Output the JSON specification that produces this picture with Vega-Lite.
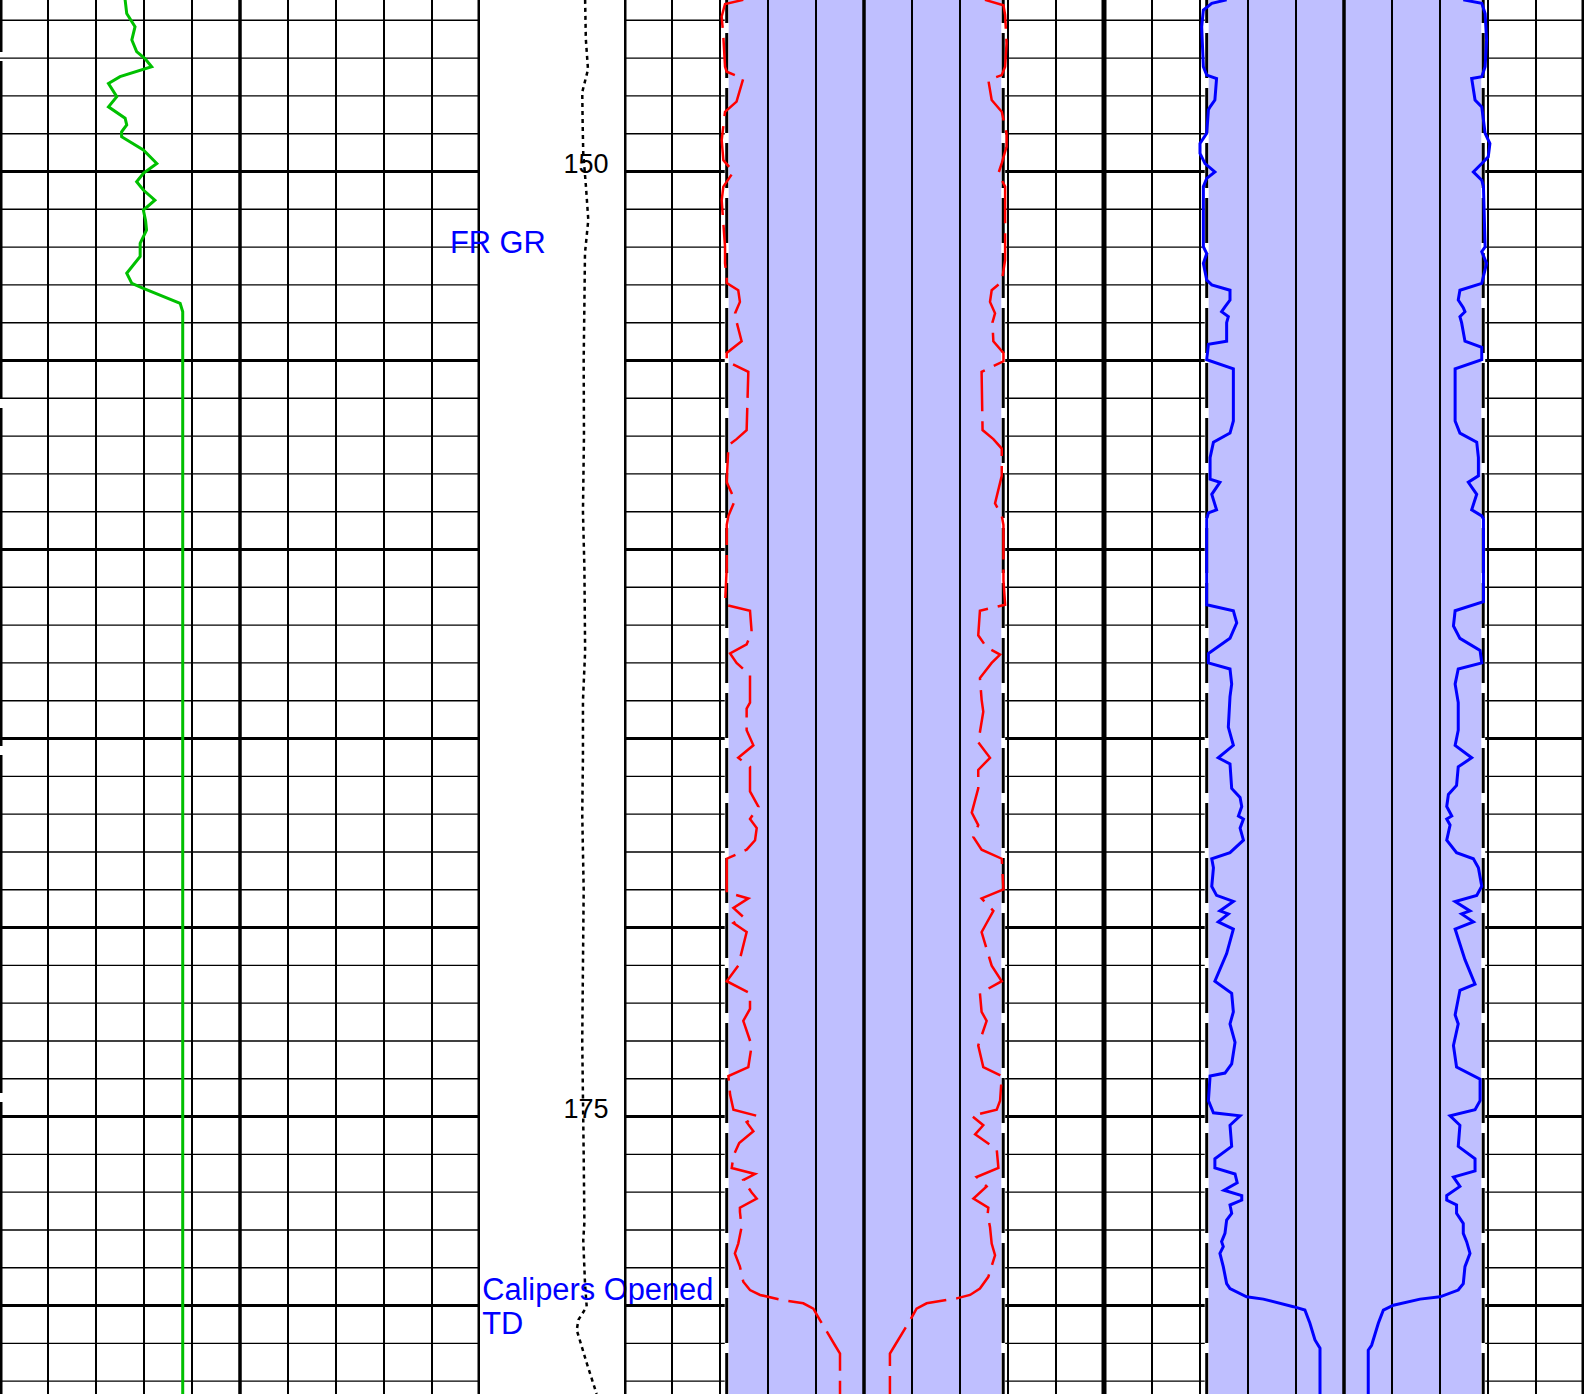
{
  "$schema": "https://vega.github.io/schema/vega-lite/v6.json",
  "padding": 0,
  "autosize": {"type": "pad"},
  "background": "white",
  "config": {"view": {"stroke": null}, "concat": {"spacing": 0}},
  "spacing": 0,
  "bounds": "flush",
  "resolve": {"scale": {"x": "independent", "y": "independent"}},
  "datasets": {
    "hgrid": [{"depth":146},{"depth":147},{"depth":148},{"depth":149},{"depth":150},{"depth":151},{"depth":152},{"depth":153},{"depth":154},{"depth":155},{"depth":156},{"depth":157},{"depth":158},{"depth":159},{"depth":160},{"depth":161},{"depth":162},{"depth":163},{"depth":164},{"depth":165},{"depth":166},{"depth":167},{"depth":168},{"depth":169},{"depth":170},{"depth":171},{"depth":172},{"depth":173},{"depth":174},{"depth":175},{"depth":176},{"depth":177},{"depth":178},{"depth":179},{"depth":180},{"depth":181},{"depth":182}],
    "vgridGR": [{"v":15},{"v":30},{"v":45},{"v":60},{"v":75},{"v":90},{"v":105},{"v":120},{"v":135},{"v":150}],
    "edge": [{"v":0}],
    "vgridCal": [{"v":-10},{"v":-8},{"v":-6},{"v":-4},{"v":-2},{"v":0},{"v":2},{"v":4},{"v":6},{"v":8},{"v":10}],
    "bitfill": [{"lo":-5.72,"hi":5.8}],
    "bit": [{"v":-5.72},{"v":5.8}],
    "gr": [
      {"depth":145.46,"v":39.1},{"depth":145.82,"v":39.6},{"depth":146.17,"v":42.2},{"depth":146.52,"v":41.2},{"depth":146.83,"v":42.7},{"depth":147.01,"v":45.3},{"depth":147.23,"v":47.4},{"depth":147.49,"v":37.5},{"depth":147.67,"v":33.9},{"depth":148.02,"v":36.5},{"depth":148.29,"v":33.9},{"depth":148.59,"v":39.1},{"depth":148.77,"v":39.6},{"depth":148.95,"v":38.0},{"depth":149.08,"v":38.0},{"depth":149.43,"v":44.8},{"depth":149.79,"v":49.0},{"depth":150.05,"v":44.8},{"depth":150.27,"v":42.7},{"depth":150.49,"v":44.8},{"depth":150.76,"v":48.4},{"depth":151.02,"v":44.8},{"depth":151.3,"v":45.5},{"depth":151.55,"v":45.8},{"depth":151.9,"v":43.8},{"depth":152.25,"v":43.8},{"depth":152.69,"v":39.6},{"depth":152.96,"v":41.2},{"depth":153.09,"v":44.8},{"depth":153.49,"v":56.3},{"depth":153.71,"v":57.1},{"depth":182.34,"v":57.1}
    ],
    "dots": [
      {"depth":145.46,"v":73.0},{"depth":146.5,"v":73.5},{"depth":147.3,"v":75.0},{"depth":147.9,"v":71.0},{"depth":148.77,"v":71.3},{"depth":149.51,"v":71.7},{"depth":150.41,"v":73.6},{"depth":151.28,"v":75.2},{"depth":152.16,"v":72.9},{"depth":153.5,"v":72.5},{"depth":155.0,"v":72.0},{"depth":157.0,"v":72.2},{"depth":159.0,"v":71.5},{"depth":160.5,"v":72.5},{"depth":162.7,"v":73.0},{"depth":164.0,"v":71.5},{"depth":165.5,"v":71.5},{"depth":167.0,"v":71.0},{"depth":169.0,"v":72.0},{"depth":171.0,"v":71.5},{"depth":173.0,"v":71.0},{"depth":174.5,"v":71.5},{"depth":176.0,"v":72.0},{"depth":177.8,"v":72.5},{"depth":178.27,"v":71.7},{"depth":179.4,"v":72.9},{"depth":180.03,"v":74.1},{"depth":180.38,"v":68.3},{"depth":180.65,"v":67.2},{"depth":181.52,"v":74.1},{"depth":182.34,"v":81.0}
    ],
    "labels": [{"depth":150,"text":"150"},{"depth":175,"text":"175"}],
    "notes": [{"depth":179.85,"text":"Calipers Opened"},{"depth":180.74,"text":"TD"}],
    "grnote": [{"depth":152.15,"text":"FR GR"}],
    "cal": [
      {"t":"A","s":"L","depth":145.46,"v":-5.03},{"t":"A","s":"L","depth":145.57,"v":-5.79},{"t":"A","s":"L","depth":145.9,"v":-5.93},{"t":"A","s":"L","depth":146.43,"v":-5.86},{"t":"A","s":"L","depth":147.23,"v":-5.79},{"t":"A","s":"L","depth":147.36,"v":-5.72},{"t":"A","s":"L","depth":147.54,"v":-5.03},{"t":"A","s":"L","depth":148.15,"v":-5.31},{"t":"A","s":"L","depth":148.42,"v":-5.79},{"t":"A","s":"L","depth":149.17,"v":-5.93},{"t":"A","s":"L","depth":149.7,"v":-5.86},{"t":"A","s":"L","depth":150.01,"v":-5.44},{"t":"A","s":"L","depth":150.4,"v":-5.86},{"t":"A","s":"L","depth":150.76,"v":-5.93},{"t":"A","s":"L","depth":151.99,"v":-5.79},{"t":"A","s":"L","depth":152.43,"v":-5.79},{"t":"A","s":"L","depth":152.78,"v":-5.72},{"t":"A","s":"L","depth":152.95,"v":-5.72},{"t":"A","s":"L","depth":153.14,"v":-5.24},{"t":"A","s":"L","depth":153.45,"v":-5.17},{"t":"A","s":"L","depth":153.75,"v":-5.37},{"t":"A","s":"L","depth":154.0,"v":-5.3},{"t":"A","s":"L","depth":154.49,"v":-5.1},{"t":"A","s":"L","depth":154.8,"v":-5.72},{"t":"A","s":"L","depth":155.02,"v":-5.72},{"t":"A","s":"L","depth":155.3,"v":-4.82},{"t":"A","s":"L","depth":156.84,"v":-4.89},{"t":"A","s":"L","depth":157.08,"v":-5.31},{"t":"A","s":"L","depth":157.24,"v":-5.65},{"t":"A","s":"L","depth":158.22,"v":-5.72},{"t":"A","s":"L","depth":158.7,"v":-5.38},{"t":"A","s":"L","depth":159.11,"v":-5.65},{"t":"A","s":"L","depth":159.35,"v":-5.72},{"t":"A","s":"L","depth":160.48,"v":-5.72},{"t":"A","s":"L","depth":161.46,"v":-5.79},{"t":"A","s":"L","depth":161.62,"v":-4.75},{"t":"A","s":"L","depth":162.19,"v":-4.68},{"t":"A","s":"L","depth":162.51,"v":-4.89},{"t":"A","s":"L","depth":162.75,"v":-5.58},{"t":"A","s":"L","depth":163.0,"v":-5.31},{"t":"A","s":"L","depth":163.32,"v":-4.75},{"t":"A","s":"L","depth":164.05,"v":-4.75},{"t":"A","s":"L","depth":164.21,"v":-4.89},{"t":"A","s":"L","depth":164.78,"v":-4.89},{"t":"A","s":"L","depth":165.18,"v":-4.61},{"t":"A","s":"L","depth":165.51,"v":-5.24},{"t":"A","s":"L","depth":165.75,"v":-4.75},{"t":"A","s":"L","depth":166.4,"v":-4.75},{"t":"A","s":"L","depth":166.8,"v":-4.4},{"t":"A","s":"L","depth":167.13,"v":-4.75},{"t":"A","s":"L","depth":167.37,"v":-4.47},{"t":"A","s":"L","depth":167.69,"v":-4.54},{"t":"A","s":"L","depth":167.94,"v":-4.89},{"t":"A","s":"L","depth":168.18,"v":-5.72},{"t":"A","s":"L","depth":169.07,"v":-5.72},{"t":"A","s":"L","depth":169.23,"v":-4.82},{"t":"A","s":"L","depth":169.48,"v":-5.44},{"t":"A","s":"L","depth":169.72,"v":-5.03},{"t":"A","s":"L","depth":169.88,"v":-5.44},{"t":"A","s":"L","depth":170.12,"v":-4.89},{"t":"A","s":"L","depth":171.01,"v":-5.24},{"t":"A","s":"L","depth":171.42,"v":-5.72},{"t":"A","s":"L","depth":171.74,"v":-4.75},{"t":"A","s":"L","depth":172.15,"v":-4.75},{"t":"A","s":"L","depth":172.47,"v":-5.03},{"t":"A","s":"L","depth":173.12,"v":-4.68},{"t":"A","s":"L","depth":173.69,"v":-4.82},{"t":"A","s":"L","depth":173.93,"v":-5.65},{"t":"A","s":"L","depth":174.42,"v":-5.58},{"t":"A","s":"L","depth":174.82,"v":-5.44},{"t":"A","s":"L","depth":174.98,"v":-4.47},{"t":"A","s":"L","depth":175.15,"v":-4.89},{"t":"A","s":"L","depth":175.39,"v":-4.61},{"t":"A","s":"L","depth":175.7,"v":-5.2},{"t":"A","s":"L","depth":176.04,"v":-5.44},{"t":"A","s":"L","depth":176.36,"v":-5.51},{"t":"A","s":"L","depth":176.52,"v":-4.54},{"t":"A","s":"L","depth":176.68,"v":-5.03},{"t":"A","s":"L","depth":177.01,"v":-4.68},{"t":"A","s":"L","depth":177.17,"v":-4.47},{"t":"A","s":"L","depth":177.41,"v":-5.17},{"t":"A","s":"L","depth":177.52,"v":-5.17},{"t":"A","s":"L","depth":177.92,"v":-5.1},{"t":"A","s":"L","depth":178.36,"v":-5.24},{"t":"A","s":"L","depth":178.62,"v":-5.38},{"t":"A","s":"L","depth":178.97,"v":-5.17},{"t":"A","s":"L","depth":179.37,"v":-5.03},{"t":"A","s":"L","depth":179.59,"v":-4.75},{"t":"A","s":"L","depth":179.72,"v":-4.33},{"t":"A","s":"L","depth":179.86,"v":-3.36},{"t":"A","s":"L","depth":179.94,"v":-2.53},{"t":"A","s":"L","depth":180.08,"v":-2.11},{"t":"A","s":"L","depth":180.39,"v":-1.83},{"t":"A","s":"L","depth":181.05,"v":-1.21},{"t":"A","s":"L","depth":181.27,"v":-1.0},{"t":"A","s":"L","depth":182.34,"v":-1.0},
      {"t":"A","s":"R","depth":145.46,"v":5.04},{"t":"A","s":"R","depth":145.6,"v":5.81},{"t":"A","s":"R","depth":145.86,"v":5.88},{"t":"A","s":"R","depth":146.61,"v":5.94},{"t":"A","s":"R","depth":147.23,"v":5.88},{"t":"A","s":"R","depth":147.45,"v":5.74},{"t":"A","s":"R","depth":147.58,"v":5.18},{"t":"A","s":"R","depth":148.11,"v":5.32},{"t":"A","s":"R","depth":148.42,"v":5.74},{"t":"A","s":"R","depth":148.99,"v":5.94},{"t":"A","s":"R","depth":149.34,"v":5.94},{"t":"A","s":"R","depth":149.78,"v":5.74},{"t":"A","s":"R","depth":150.05,"v":5.6},{"t":"A","s":"R","depth":150.4,"v":5.88},{"t":"A","s":"R","depth":151.64,"v":5.88},{"t":"A","s":"R","depth":152.34,"v":5.88},{"t":"A","s":"R","depth":152.92,"v":5.74},{"t":"A","s":"R","depth":153.14,"v":5.32},{"t":"A","s":"R","depth":153.45,"v":5.25},{"t":"A","s":"R","depth":153.75,"v":5.46},{"t":"A","s":"R","depth":154.0,"v":5.35},{"t":"A","s":"R","depth":154.49,"v":5.39},{"t":"A","s":"R","depth":154.8,"v":5.81},{"t":"A","s":"R","depth":155.02,"v":5.81},{"t":"A","s":"R","depth":155.3,"v":4.9},{"t":"A","s":"R","depth":156.84,"v":4.94},{"t":"A","s":"R","depth":157.08,"v":5.39},{"t":"A","s":"R","depth":157.33,"v":5.74},{"t":"A","s":"R","depth":158.05,"v":5.74},{"t":"A","s":"R","depth":158.78,"v":5.46},{"t":"A","s":"R","depth":159.11,"v":5.74},{"t":"A","s":"R","depth":159.35,"v":5.81},{"t":"A","s":"R","depth":160.81,"v":5.81},{"t":"A","s":"R","depth":161.46,"v":5.88},{"t":"A","s":"R","depth":161.62,"v":4.83},{"t":"A","s":"R","depth":162.27,"v":4.76},{"t":"A","s":"R","depth":162.59,"v":5.11},{"t":"A","s":"R","depth":162.78,"v":5.67},{"t":"A","s":"R","depth":163.0,"v":5.32},{"t":"A","s":"R","depth":163.4,"v":4.83},{"t":"A","s":"R","depth":163.97,"v":4.9},{"t":"A","s":"R","depth":164.29,"v":4.97},{"t":"A","s":"R","depth":165.1,"v":4.76},{"t":"A","s":"R","depth":165.51,"v":5.25},{"t":"A","s":"R","depth":165.83,"v":4.76},{"t":"A","s":"R","depth":166.32,"v":4.76},{"t":"A","s":"R","depth":166.96,"v":4.49},{"t":"A","s":"R","depth":167.29,"v":4.76},{"t":"A","s":"R","depth":167.61,"v":4.56},{"t":"A","s":"R","depth":167.94,"v":4.9},{"t":"A","s":"R","depth":168.18,"v":5.74},{"t":"A","s":"R","depth":168.99,"v":5.81},{"t":"A","s":"R","depth":169.23,"v":4.9},{"t":"A","s":"R","depth":169.56,"v":5.39},{"t":"A","s":"R","depth":169.88,"v":5.11},{"t":"A","s":"R","depth":170.12,"v":4.9},{"t":"A","s":"R","depth":171.01,"v":5.32},{"t":"A","s":"R","depth":171.42,"v":5.74},{"t":"A","s":"R","depth":171.74,"v":4.83},{"t":"A","s":"R","depth":172.23,"v":4.9},{"t":"A","s":"R","depth":172.47,"v":5.11},{"t":"A","s":"R","depth":173.12,"v":4.76},{"t":"A","s":"R","depth":173.69,"v":4.97},{"t":"A","s":"R","depth":173.93,"v":5.74},{"t":"A","s":"R","depth":174.58,"v":5.67},{"t":"A","s":"R","depth":174.82,"v":5.53},{"t":"A","s":"R","depth":174.98,"v":4.49},{"t":"A","s":"R","depth":175.23,"v":4.97},{"t":"A","s":"R","depth":175.47,"v":4.63},{"t":"A","s":"R","depth":175.87,"v":5.53},{"t":"A","s":"R","depth":176.36,"v":5.6},{"t":"A","s":"R","depth":176.6,"v":4.69},{"t":"A","s":"R","depth":176.85,"v":5.11},{"t":"A","s":"R","depth":177.17,"v":4.56},{"t":"A","s":"R","depth":177.41,"v":5.18},{"t":"A","s":"R","depth":177.6,"v":5.15},{"t":"A","s":"R","depth":177.92,"v":5.25},{"t":"A","s":"R","depth":178.36,"v":5.32},{"t":"A","s":"R","depth":178.67,"v":5.46},{"t":"A","s":"R","depth":179.24,"v":5.18},{"t":"A","s":"R","depth":179.55,"v":4.83},{"t":"A","s":"R","depth":179.72,"v":4.42},{"t":"A","s":"R","depth":179.81,"v":3.86},{"t":"A","s":"R","depth":179.94,"v":2.61},{"t":"A","s":"R","depth":180.08,"v":2.19},{"t":"A","s":"R","depth":180.39,"v":1.92},{"t":"A","s":"R","depth":181.05,"v":1.29},{"t":"A","s":"R","depth":181.27,"v":1.08},{"t":"A","s":"R","depth":182.34,"v":1.08},
      {"t":"B","s":"L","depth":145.46,"v":-4.89},{"t":"B","s":"L","depth":145.55,"v":-5.51},{"t":"B","s":"L","depth":145.73,"v":-5.86},{"t":"B","s":"L","depth":146.17,"v":-5.93},{"t":"B","s":"L","depth":147.23,"v":-5.86},{"t":"B","s":"L","depth":147.45,"v":-5.72},{"t":"B","s":"L","depth":147.54,"v":-5.31},{"t":"B","s":"L","depth":148.11,"v":-5.38},{"t":"B","s":"L","depth":148.29,"v":-5.58},{"t":"B","s":"L","depth":148.37,"v":-5.65},{"t":"B","s":"L","depth":148.99,"v":-5.72},{"t":"B","s":"L","depth":149.26,"v":-6.0},{"t":"B","s":"L","depth":149.52,"v":-6.0},{"t":"B","s":"L","depth":149.79,"v":-5.79},{"t":"B","s":"L","depth":150.01,"v":-5.38},{"t":"B","s":"L","depth":150.18,"v":-5.72},{"t":"B","s":"L","depth":150.4,"v":-5.86},{"t":"B","s":"L","depth":151.99,"v":-5.86},{"t":"B","s":"L","depth":152.17,"v":-5.72},{"t":"B","s":"L","depth":152.43,"v":-5.86},{"t":"B","s":"L","depth":152.87,"v":-5.72},{"t":"B","s":"L","depth":153.0,"v":-5.51},{"t":"B","s":"L","depth":153.14,"v":-4.75},{"t":"B","s":"L","depth":153.4,"v":-4.75},{"t":"B","s":"L","depth":153.58,"v":-4.96},{"t":"B","s":"L","depth":153.71,"v":-5.1},{"t":"B","s":"L","depth":153.84,"v":-4.82},{"t":"B","s":"L","depth":154.0,"v":-4.89},{"t":"B","s":"L","depth":154.49,"v":-4.89},{"t":"B","s":"L","depth":154.57,"v":-5.65},{"t":"B","s":"L","depth":154.98,"v":-5.72},{"t":"B","s":"L","depth":155.22,"v":-4.61},{"t":"B","s":"L","depth":156.6,"v":-4.61},{"t":"B","s":"L","depth":156.92,"v":-4.75},{"t":"B","s":"L","depth":157.16,"v":-5.44},{"t":"B","s":"L","depth":157.57,"v":-5.58},{"t":"B","s":"L","depth":158.14,"v":-5.58},{"t":"B","s":"L","depth":158.22,"v":-5.17},{"t":"B","s":"L","depth":158.54,"v":-5.51},{"t":"B","s":"L","depth":158.95,"v":-5.31},{"t":"B","s":"L","depth":159.03,"v":-5.65},{"t":"B","s":"L","depth":159.19,"v":-5.72},{"t":"B","s":"L","depth":161.46,"v":-5.72},{"t":"B","s":"L","depth":161.62,"v":-4.61},{"t":"B","s":"L","depth":161.94,"v":-4.47},{"t":"B","s":"L","depth":162.35,"v":-4.75},{"t":"B","s":"L","depth":162.75,"v":-5.65},{"t":"B","s":"L","depth":163.0,"v":-5.65},{"t":"B","s":"L","depth":163.16,"v":-4.75},{"t":"B","s":"L","depth":163.56,"v":-4.68},{"t":"B","s":"L","depth":163.89,"v":-4.75},{"t":"B","s":"L","depth":164.7,"v":-4.82},{"t":"B","s":"L","depth":165.18,"v":-4.61},{"t":"B","s":"L","depth":165.51,"v":-5.24},{"t":"B","s":"L","depth":165.67,"v":-4.75},{"t":"B","s":"L","depth":166.32,"v":-4.68},{"t":"B","s":"L","depth":166.56,"v":-4.33},{"t":"B","s":"L","depth":166.8,"v":-4.26},{"t":"B","s":"L","depth":167.05,"v":-4.4},{"t":"B","s":"L","depth":167.13,"v":-4.19},{"t":"B","s":"L","depth":167.37,"v":-4.33},{"t":"B","s":"L","depth":167.69,"v":-4.19},{"t":"B","s":"L","depth":168.02,"v":-4.75},{"t":"B","s":"L","depth":168.18,"v":-5.51},{"t":"B","s":"L","depth":168.42,"v":-5.44},{"t":"B","s":"L","depth":168.91,"v":-5.51},{"t":"B","s":"L","depth":169.15,"v":-5.31},{"t":"B","s":"L","depth":169.31,"v":-4.61},{"t":"B","s":"L","depth":169.56,"v":-5.17},{"t":"B","s":"L","depth":169.64,"v":-4.82},{"t":"B","s":"L","depth":169.85,"v":-5.24},{"t":"B","s":"L","depth":170.04,"v":-4.61},{"t":"B","s":"L","depth":170.69,"v":-4.89},{"t":"B","s":"L","depth":171.42,"v":-5.38},{"t":"B","s":"L","depth":171.74,"v":-4.68},{"t":"B","s":"L","depth":172.23,"v":-4.61},{"t":"B","s":"L","depth":172.55,"v":-4.75},{"t":"B","s":"L","depth":173.04,"v":-4.54},{"t":"B","s":"L","depth":173.61,"v":-4.68},{"t":"B","s":"L","depth":173.85,"v":-4.96},{"t":"B","s":"L","depth":173.93,"v":-5.58},{"t":"B","s":"L","depth":174.58,"v":-5.65},{"t":"B","s":"L","depth":174.9,"v":-5.44},{"t":"B","s":"L","depth":174.98,"v":-4.33},{"t":"B","s":"L","depth":175.23,"v":-4.75},{"t":"B","s":"L","depth":175.79,"v":-4.68},{"t":"B","s":"L","depth":176.12,"v":-5.38},{"t":"B","s":"L","depth":176.36,"v":-5.38},{"t":"B","s":"L","depth":176.52,"v":-4.54},{"t":"B","s":"L","depth":176.75,"v":-4.45},{"t":"B","s":"L","depth":176.95,"v":-5.0},{"t":"B","s":"L","depth":177.09,"v":-4.26},{"t":"B","s":"L","depth":177.21,"v":-4.26},{"t":"B","s":"L","depth":177.34,"v":-4.75},{"t":"B","s":"L","depth":177.56,"v":-4.68},{"t":"B","s":"L","depth":177.74,"v":-4.89},{"t":"B","s":"L","depth":178.09,"v":-4.96},{"t":"B","s":"L","depth":178.31,"v":-5.1},{"t":"B","s":"L","depth":178.44,"v":-5.03},{"t":"B","s":"L","depth":178.62,"v":-5.17},{"t":"B","s":"L","depth":178.97,"v":-5.03},{"t":"B","s":"L","depth":179.42,"v":-4.89},{"t":"B","s":"L","depth":179.55,"v":-4.75},{"t":"B","s":"L","depth":179.77,"v":-4.06},{"t":"B","s":"L","depth":179.83,"v":-3.36},{"t":"B","s":"L","depth":180.03,"v":-2.11},{"t":"B","s":"L","depth":180.12,"v":-1.63},{"t":"B","s":"L","depth":180.47,"v":-1.42},{"t":"B","s":"L","depth":180.91,"v":-1.21},{"t":"B","s":"L","depth":181.13,"v":-1.0},{"t":"B","s":"L","depth":182.34,"v":-1.0},
      {"t":"B","s":"R","depth":145.46,"v":4.97},{"t":"B","s":"R","depth":145.55,"v":5.74},{"t":"B","s":"R","depth":145.82,"v":5.88},{"t":"B","s":"R","depth":146.52,"v":5.94},{"t":"B","s":"R","depth":147.23,"v":5.88},{"t":"B","s":"R","depth":147.49,"v":5.74},{"t":"B","s":"R","depth":147.54,"v":5.32},{"t":"B","s":"R","depth":148.11,"v":5.46},{"t":"B","s":"R","depth":148.29,"v":5.74},{"t":"B","s":"R","depth":148.99,"v":5.88},{"t":"B","s":"R","depth":149.26,"v":6.08},{"t":"B","s":"R","depth":149.61,"v":6.01},{"t":"B","s":"R","depth":149.79,"v":5.74},{"t":"B","s":"R","depth":150.01,"v":5.39},{"t":"B","s":"R","depth":150.23,"v":5.74},{"t":"B","s":"R","depth":150.4,"v":5.81},{"t":"B","s":"R","depth":151.99,"v":5.88},{"t":"B","s":"R","depth":152.12,"v":5.74},{"t":"B","s":"R","depth":152.43,"v":5.94},{"t":"B","s":"R","depth":152.96,"v":5.74},{"t":"B","s":"R","depth":153.14,"v":4.83},{"t":"B","s":"R","depth":153.4,"v":4.76},{"t":"B","s":"R","depth":153.6,"v":4.97},{"t":"B","s":"R","depth":153.71,"v":5.04},{"t":"B","s":"R","depth":153.84,"v":4.83},{"t":"B","s":"R","depth":154.0,"v":4.9},{"t":"B","s":"R","depth":154.49,"v":5.04},{"t":"B","s":"R","depth":154.65,"v":5.74},{"t":"B","s":"R","depth":154.98,"v":5.74},{"t":"B","s":"R","depth":155.22,"v":4.63},{"t":"B","s":"R","depth":156.6,"v":4.63},{"t":"B","s":"R","depth":156.92,"v":4.83},{"t":"B","s":"R","depth":157.16,"v":5.53},{"t":"B","s":"R","depth":157.57,"v":5.6},{"t":"B","s":"R","depth":158.05,"v":5.6},{"t":"B","s":"R","depth":158.22,"v":5.18},{"t":"B","s":"R","depth":158.54,"v":5.53},{"t":"B","s":"R","depth":158.95,"v":5.32},{"t":"B","s":"R","depth":159.11,"v":5.74},{"t":"B","s":"R","depth":159.19,"v":5.81},{"t":"B","s":"R","depth":161.38,"v":5.81},{"t":"B","s":"R","depth":161.62,"v":4.63},{"t":"B","s":"R","depth":162.02,"v":4.56},{"t":"B","s":"R","depth":162.35,"v":4.83},{"t":"B","s":"R","depth":162.67,"v":5.67},{"t":"B","s":"R","depth":163.0,"v":5.74},{"t":"B","s":"R","depth":163.16,"v":4.76},{"t":"B","s":"R","depth":163.56,"v":4.63},{"t":"B","s":"R","depth":164.05,"v":4.76},{"t":"B","s":"R","depth":164.78,"v":4.76},{"t":"B","s":"R","depth":165.18,"v":4.63},{"t":"B","s":"R","depth":165.51,"v":5.32},{"t":"B","s":"R","depth":165.75,"v":4.76},{"t":"B","s":"R","depth":166.24,"v":4.69},{"t":"B","s":"R","depth":166.48,"v":4.35},{"t":"B","s":"R","depth":166.8,"v":4.28},{"t":"B","s":"R","depth":167.05,"v":4.49},{"t":"B","s":"R","depth":167.13,"v":4.28},{"t":"B","s":"R","depth":167.29,"v":4.42},{"t":"B","s":"R","depth":167.69,"v":4.28},{"t":"B","s":"R","depth":168.02,"v":4.69},{"t":"B","s":"R","depth":168.18,"v":5.39},{"t":"B","s":"R","depth":168.42,"v":5.6},{"t":"B","s":"R","depth":168.91,"v":5.74},{"t":"B","s":"R","depth":169.15,"v":5.53},{"t":"B","s":"R","depth":169.31,"v":4.63},{"t":"B","s":"R","depth":169.56,"v":5.25},{"t":"B","s":"R","depth":169.64,"v":4.9},{"t":"B","s":"R","depth":169.85,"v":5.39},{"t":"B","s":"R","depth":170.04,"v":4.63},{"t":"B","s":"R","depth":170.85,"v":5.04},{"t":"B","s":"R","depth":171.5,"v":5.46},{"t":"B","s":"R","depth":171.66,"v":4.83},{"t":"B","s":"R","depth":172.31,"v":4.63},{"t":"B","s":"R","depth":172.55,"v":4.76},{"t":"B","s":"R","depth":173.12,"v":4.56},{"t":"B","s":"R","depth":173.69,"v":4.69},{"t":"B","s":"R","depth":174.01,"v":5.67},{"t":"B","s":"R","depth":174.58,"v":5.67},{"t":"B","s":"R","depth":174.82,"v":5.46},{"t":"B","s":"R","depth":174.98,"v":4.42},{"t":"B","s":"R","depth":175.23,"v":4.83},{"t":"B","s":"R","depth":175.79,"v":4.76},{"t":"B","s":"R","depth":176.12,"v":5.46},{"t":"B","s":"R","depth":176.44,"v":5.46},{"t":"B","s":"R","depth":176.6,"v":4.56},{"t":"B","s":"R","depth":176.85,"v":4.83},{"t":"B","s":"R","depth":177.09,"v":4.28},{"t":"B","s":"R","depth":177.21,"v":4.28},{"t":"B","s":"R","depth":177.34,"v":4.69},{"t":"B","s":"R","depth":177.56,"v":4.69},{"t":"B","s":"R","depth":177.83,"v":4.97},{"t":"B","s":"R","depth":178.09,"v":4.97},{"t":"B","s":"R","depth":178.31,"v":5.11},{"t":"B","s":"R","depth":178.62,"v":5.25},{"t":"B","s":"R","depth":178.97,"v":5.04},{"t":"B","s":"R","depth":179.42,"v":4.97},{"t":"B","s":"R","depth":179.59,"v":4.76},{"t":"B","s":"R","depth":179.77,"v":4.0},{"t":"B","s":"R","depth":179.83,"v":3.17},{"t":"B","s":"R","depth":179.99,"v":2.06},{"t":"B","s":"R","depth":180.12,"v":1.64},{"t":"B","s":"R","depth":180.47,"v":1.43},{"t":"B","s":"R","depth":181.05,"v":1.15},{"t":"B","s":"R","depth":181.18,"v":1.01},{"t":"B","s":"R","depth":182.34,"v":1.01}
    ]
  },
  "hconcat": [
    {
      "width": 480, "height": 1394,
      "layer": [
        {"data": {"name": "hgrid"}, "mark": {"type": "rule", "color": "black", "clip": true},
         "encoding": {"y": {"field": "depth", "type": "quantitative", "scale": {"domain": [145.463, 182.34], "reverse": true, "nice": false, "zero": false}, "axis": null},
           "strokeWidth": {"condition": {"test": "datum.depth % 5 === 0", "value": 3}, "value": 1.4}}},
        {"data": {"name": "vgridGR"}, "mark": {"type": "rule", "color": "black", "clip": true},
         "encoding": {"x": {"field": "v", "type": "quantitative", "scale": {"domain": [0, 150], "nice": false, "zero": false}, "axis": null},
           "strokeWidth": {"condition": [{"test": "datum.v === 150", "value": 5}, {"test": "datum.v === 75", "value": 3.5}], "value": 2}}},
        {"data": {"name": "edge"}, "mark": {"type": "rule", "color": "black", "clip": true, "strokeWidth": 5, "strokeDash": [338, 9], "strokeDashOffset": 286},
         "encoding": {"x": {"field": "v", "type": "quantitative", "scale": {"domain": [0, 150], "nice": false, "zero": false}, "axis": null}}},
        {"data": {"name": "gr"}, "mark": {"type": "line", "color": "#00C000", "strokeWidth": 3, "clip": true},
         "encoding": {"x": {"field": "v", "type": "quantitative", "scale": {"domain": [0, 150], "nice": false, "zero": false}, "axis": null},
           "y": {"field": "depth", "type": "quantitative", "scale": {"domain": [145.463, 182.34], "reverse": true, "nice": false, "zero": false}, "axis": null},
           "order": {"field": "depth", "type": "quantitative"}}},
        {"data": {"name": "grnote"}, "mark": {"type": "text", "color": "#0000FF", "font": "Liberation Sans", "fontSize": 30.8, "align": "left", "baseline": "alphabetic"},
         "encoding": {"x": {"datum": 140.6, "type": "quantitative", "scale": {"domain": [0, 150], "nice": false, "zero": false}, "axis": null},
           "y": {"field": "depth", "type": "quantitative", "scale": {"domain": [145.463, 182.34], "reverse": true, "nice": false, "zero": false}, "axis": null},
           "text": {"field": "text"}}}
      ]
    },
    {
      "width": 144, "height": 1394,
      "layer": [
        {"data": {"name": "dots"}, "mark": {"type": "line", "color": "black", "strokeWidth": 2.5, "strokeDash": [4, 4], "clip": true},
         "encoding": {"x": {"field": "v", "type": "quantitative", "scale": {"domain": [0, 100], "nice": false, "zero": false}, "axis": null},
           "y": {"field": "depth", "type": "quantitative", "scale": {"domain": [145.463, 182.34], "reverse": true, "nice": false, "zero": false}, "axis": null},
           "order": {"field": "depth", "type": "quantitative"}}},
        {"data": {"name": "labels"}, "mark": {"type": "text", "color": "black", "font": "Liberation Sans", "fontSize": 27, "align": "center", "baseline": "alphabetic", "dy": 1.5},
         "encoding": {"x": {"datum": 73.6, "type": "quantitative", "scale": {"domain": [0, 100], "nice": false, "zero": false}, "axis": null},
           "y": {"field": "depth", "type": "quantitative", "scale": {"domain": [145.463, 182.34], "reverse": true, "nice": false, "zero": false}, "axis": null},
           "text": {"field": "text"}}},
        {"data": {"name": "notes"}, "mark": {"type": "text", "color": "#0000FF", "font": "Liberation Sans", "fontSize": 30.8, "align": "left", "baseline": "alphabetic"},
         "encoding": {"x": {"datum": 1.5, "type": "quantitative", "scale": {"domain": [0, 100], "nice": false, "zero": false}, "axis": null},
           "y": {"field": "depth", "type": "quantitative", "scale": {"domain": [145.463, 182.34], "reverse": true, "nice": false, "zero": false}, "axis": null},
           "text": {"field": "text"}}}
      ]
    },
    {
      "width": 480, "height": 1394,
      "layer": [
        {"data": {"name": "hgrid"}, "mark": {"type": "rule", "color": "black", "clip": true},
         "encoding": {"y": {"field": "depth", "type": "quantitative", "scale": {"domain": [145.463, 182.34], "reverse": true, "nice": false, "zero": false}, "axis": null},
           "strokeWidth": {"condition": {"test": "datum.depth % 5 === 0", "value": 3}, "value": 1.4}}},
        {"data": {"name": "cal"}, "transform": [{"filter": "datum.t === 'A' && datum.s === 'L'"}],
         "mark": {"type": "area", "orient": "horizontal", "color": "#B04A10", "clip": true},
         "encoding": {"x": {"field": "v", "type": "quantitative", "scale": {"domain": [-10, 10], "nice": false, "zero": false}, "axis": null},
           "x2": {"datum": -5.72},
           "y": {"field": "depth", "type": "quantitative", "scale": {"domain": [145.463, 182.34], "reverse": true, "nice": false, "zero": false}, "axis": null},
           "order": {"field": "depth", "type": "quantitative"}}},
        {"data": {"name": "cal"}, "transform": [{"filter": "datum.t === 'A' && datum.s === 'R'"}],
         "mark": {"type": "area", "orient": "horizontal", "color": "#B04A10", "clip": true},
         "encoding": {"x": {"field": "v", "type": "quantitative", "scale": {"domain": [-10, 10], "nice": false, "zero": false}, "axis": null},
           "x2": {"datum": 5.8},
           "y": {"field": "depth", "type": "quantitative", "scale": {"domain": [145.463, 182.34], "reverse": true, "nice": false, "zero": false}, "axis": null},
           "order": {"field": "depth", "type": "quantitative"}}},
        {"data": {"name": "bitfill"}, "mark": {"type": "rect", "color": "#BFBFFF", "clip": true},
         "encoding": {"x": {"field": "lo", "type": "quantitative", "scale": {"domain": [-10, 10], "nice": false, "zero": false}, "axis": null},
           "x2": {"field": "hi"}}},
        {"data": {"name": "vgridCal"}, "mark": {"type": "rule", "color": "black", "clip": true},
         "encoding": {"x": {"field": "v", "type": "quantitative", "scale": {"domain": [-10, 10], "nice": false, "zero": false}, "axis": null},
           "strokeWidth": {"condition": [{"test": "abs(datum.v) === 10", "value": 5}, {"test": "datum.v === 0", "value": 3.5}], "value": 2}}},
        {"data": {"name": "bit"}, "mark": {"type": "rule", "color": "white", "strokeWidth": 4, "clip": true},
         "encoding": {"x": {"field": "v", "type": "quantitative", "scale": {"domain": [-10, 10], "nice": false, "zero": false}, "axis": null}}},
        {"data": {"name": "bit"}, "mark": {"type": "rule", "color": "black", "strokeWidth": 3, "strokeDash": [45, 10], "strokeDashOffset": 22, "clip": true},
         "encoding": {"x": {"field": "v", "type": "quantitative", "scale": {"domain": [-10, 10], "nice": false, "zero": false}, "axis": null}}},
        {"data": {"name": "cal"}, "transform": [{"filter": "datum.t === 'A'"}],
         "mark": {"type": "line", "color": "#FF0000", "strokeWidth": 2.5, "strokeDash": [43, 10], "clip": true},
         "encoding": {"x": {"field": "v", "type": "quantitative", "scale": {"domain": [-10, 10], "nice": false, "zero": false}, "axis": null},
           "y": {"field": "depth", "type": "quantitative", "scale": {"domain": [145.463, 182.34], "reverse": true, "nice": false, "zero": false}, "axis": null},
           "detail": {"field": "s"},
           "order": {"field": "depth", "type": "quantitative"}}}
      ]
    },
    {
      "width": 480, "height": 1394,
      "layer": [
        {"data": {"name": "hgrid"}, "mark": {"type": "rule", "color": "black", "clip": true},
         "encoding": {"y": {"field": "depth", "type": "quantitative", "scale": {"domain": [145.463, 182.34], "reverse": true, "nice": false, "zero": false}, "axis": null},
           "strokeWidth": {"condition": {"test": "datum.depth % 5 === 0", "value": 3}, "value": 1.4}}},
        {"data": {"name": "cal"}, "transform": [{"filter": "datum.t === 'B' && datum.s === 'L'"}],
         "mark": {"type": "area", "orient": "horizontal", "color": "#0000FF", "clip": true},
         "encoding": {"x": {"field": "v", "type": "quantitative", "scale": {"domain": [-10, 10], "nice": false, "zero": false}, "axis": null},
           "x2": {"datum": -5.72},
           "y": {"field": "depth", "type": "quantitative", "scale": {"domain": [145.463, 182.34], "reverse": true, "nice": false, "zero": false}, "axis": null},
           "order": {"field": "depth", "type": "quantitative"}}},
        {"data": {"name": "cal"}, "transform": [{"filter": "datum.t === 'B' && datum.s === 'R'"}],
         "mark": {"type": "area", "orient": "horizontal", "color": "#0000FF", "clip": true},
         "encoding": {"x": {"field": "v", "type": "quantitative", "scale": {"domain": [-10, 10], "nice": false, "zero": false}, "axis": null},
           "x2": {"datum": 5.8},
           "y": {"field": "depth", "type": "quantitative", "scale": {"domain": [145.463, 182.34], "reverse": true, "nice": false, "zero": false}, "axis": null},
           "order": {"field": "depth", "type": "quantitative"}}},
        {"data": {"name": "bitfill"}, "mark": {"type": "rect", "color": "#BFBFFF", "clip": true},
         "encoding": {"x": {"field": "lo", "type": "quantitative", "scale": {"domain": [-10, 10], "nice": false, "zero": false}, "axis": null},
           "x2": {"field": "hi"}}},
        {"data": {"name": "vgridCal"}, "mark": {"type": "rule", "color": "black", "clip": true},
         "encoding": {"x": {"field": "v", "type": "quantitative", "scale": {"domain": [-10, 10], "nice": false, "zero": false}, "axis": null},
           "strokeWidth": {"condition": [{"test": "abs(datum.v) === 10", "value": 5}, {"test": "datum.v === 0", "value": 3.5}], "value": 2}}},
        {"data": {"name": "bit"}, "mark": {"type": "rule", "color": "white", "strokeWidth": 4, "clip": true},
         "encoding": {"x": {"field": "v", "type": "quantitative", "scale": {"domain": [-10, 10], "nice": false, "zero": false}, "axis": null}}},
        {"data": {"name": "bit"}, "mark": {"type": "rule", "color": "black", "strokeWidth": 3, "strokeDash": [45, 10], "strokeDashOffset": 22, "clip": true},
         "encoding": {"x": {"field": "v", "type": "quantitative", "scale": {"domain": [-10, 10], "nice": false, "zero": false}, "axis": null}}},
        {"data": {"name": "cal"}, "transform": [{"filter": "datum.t === 'B'"}],
         "mark": {"type": "line", "color": "#0000FF", "strokeWidth": 3, "clip": true},
         "encoding": {"x": {"field": "v", "type": "quantitative", "scale": {"domain": [-10, 10], "nice": false, "zero": false}, "axis": null},
           "y": {"field": "depth", "type": "quantitative", "scale": {"domain": [145.463, 182.34], "reverse": true, "nice": false, "zero": false}, "axis": null},
           "detail": {"field": "s"},
           "order": {"field": "depth", "type": "quantitative"}}}
      ]
    }
  ]
}
